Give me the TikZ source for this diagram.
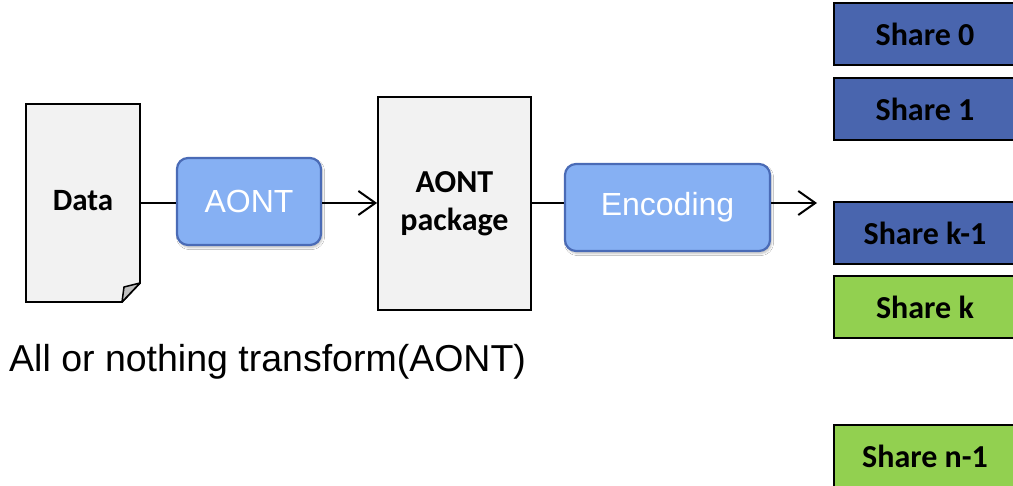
\documentclass[tikz,border=0pt]{standalone}
\usepackage{fontspec}
\setmainfont{Liberation Sans}
\newfontfamily\calib{Carlito}
\usetikzlibrary{arrows.meta,shadows.blur,calc}
\definecolor{pagegray}{HTML}{F2F2F2}
\definecolor{foldgray}{HTML}{BFBFBF}
\definecolor{procfill}{HTML}{86B0F3}
\definecolor{procdraw}{HTML}{4A6BB6}
\definecolor{shareblue}{HTML}{4965AE}
\definecolor{sharegreen}{HTML}{92D050}
\tikzset{
  x=1pt,y=-1pt,
  proc/.style={draw=procdraw, line width=2.2pt, fill=procfill, rounded corners=11pt,
    text=white, font=\fontsize{32}{36}\selectfont, inner sep=0pt,
    blur shadow={shadow xshift=1.5pt, shadow yshift=-2.5pt, shadow blur steps=6, shadow opacity=25}},
  sharebox/.style={draw=black, line width=1.6pt, minimum width=182pt, minimum height=62pt,
    inner sep=0pt, font=\calib\bfseries\fontsize{32}{36}\selectfont},
  conn/.style={line width=2pt, draw=black},
  arr/.style={conn, -{Straight Barb[length=17pt, width=24pt, line width=2pt]}},
}
\begin{document}
\begin{tikzpicture}
\fill[white] (0,0) rectangle (1013,486);
\clip (0,0) rectangle (1013,486);
% Data document
\coordinate (dnw) at (26,104);
\coordinate (dse) at (140,302);
\draw[line width=1.8pt, fill=pagegray] (dnw) -- (dnw -| dse) -- ([yshift=19pt]dse) -- ([xshift=-18pt]dse) -- (dnw |- dse) -- cycle;
\draw[line width=1.5pt, fill=foldgray, line join=round] ([xshift=-18pt]dse) -- ([xshift=-16pt,yshift=15pt]dse) -- ([yshift=19pt]dse) -- cycle;
\node[inner sep=0pt, minimum width=114pt, minimum height=198pt, font=\calib\bfseries\fontsize{31}{36}\selectfont] (data) at ($(dnw)!0.5!(dse)$) {\raisebox{6pt}{Data}};
% AONT process
\node[proc, minimum width=144pt, minimum height=87pt] (aont) at (249,201.5) {AONT};
% AONT package
\node[draw=black, line width=1.8pt, fill=pagegray, minimum width=153pt, minimum height=213pt, inner sep=0pt,
  align=center, font=\calib\bfseries\fontsize{32}{38}\selectfont] (pkg) at (454.5,203.5) {AONT\\package};
% Encoding
\node[proc, minimum width=205pt, minimum height=87pt] (enc) at (667.5,207.5) {Encoding};
\coordinate (out) at (817,203);
% Shares
\node[sharebox, fill=shareblue] (s0) at (925,34) {Share 0};
\node[sharebox, fill=shareblue] (s1) at (925,109) {Share 1};
\node[sharebox, fill=shareblue] (sk1) at (925,233) {Share k-1};
\node[sharebox, fill=sharegreen] (sk) at (925,307) {Share k};
\node[sharebox, fill=sharegreen] (sn1) at (925,456) {Share n-1};
% connectors
\draw[conn] (data.east) -- (data.east -| aont.west);
\draw[arr] (data.east -| aont.east) -- (data.east -| pkg.west);
\draw[conn] (data.east -| pkg.east) -- (data.east -| enc.west);
\draw[arr] (data.east -| enc.east) -- (out);
% caption
\node[anchor=base west, inner sep=0pt, font=\fontsize{37.5}{40}\selectfont] (cap) at (9,372) {All or nothing transform(AONT)};
\end{tikzpicture}
\end{document}
